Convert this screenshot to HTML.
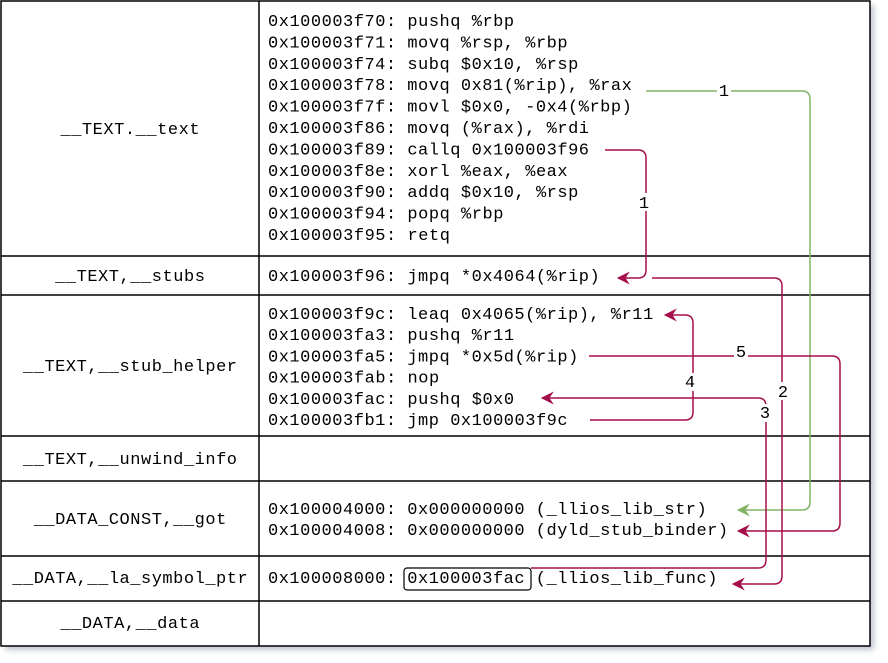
<!DOCTYPE html>
<html><head><meta charset="utf-8"><style>
body{margin:0;background:#fff}
svg{display:block}
text{font-family:"Liberation Mono","DejaVu Sans Mono",monospace;font-size:17px;fill:#000}
</style></head><body>
<svg width="888" height="663" viewBox="0 0 888 663" xmlns="http://www.w3.org/2000/svg">
<defs>
<filter id="sh" x="-5%" y="-5%" width="110%" height="110%"><feGaussianBlur stdDeviation="3"/></filter>
<marker id="ar" viewBox="0 0 12 12" refX="10" refY="6" markerWidth="13" markerHeight="13" markerUnits="userSpaceOnUse" orient="auto"><path d="M0,0 L12,6 L0,12 L4,6 Z" fill="#a50d4b"/></marker>
<marker id="ag" viewBox="0 0 12 12" refX="10" refY="6" markerWidth="13" markerHeight="13" markerUnits="userSpaceOnUse" orient="auto"><path d="M0,0 L12,6 L0,12 L4,6 Z" fill="#82b366"/></marker>
</defs>
<rect x="5" y="5" width="869" height="645" fill="#9aa0b8" opacity="0.6" filter="url(#sh)"/>
<rect x="1" y="1" width="869" height="645" fill="#fff" stroke="#000" stroke-width="1.5"/>
<g stroke="#000" stroke-width="1.5">
<line x1="259" y1="1" x2="259" y2="646"/>
<line x1="1" y1="256" x2="870" y2="256"/>
<line x1="1" y1="295" x2="870" y2="295"/>
<line x1="1" y1="436" x2="870" y2="436"/>
<line x1="1" y1="481" x2="870" y2="481"/>
<line x1="1" y1="556" x2="870" y2="556"/>
<line x1="1" y1="601" x2="870" y2="601"/>
</g>
<g text-anchor="middle">
<text x="130" y="134" textLength="139.1" lengthAdjust="spacing">__TEXT.__text</text>
<text x="130" y="281" textLength="149.8" lengthAdjust="spacing">__TEXT,__stubs</text>
<text x="130" y="371" textLength="214" lengthAdjust="spacing">__TEXT,__stub_helper</text>
<text x="130" y="464" textLength="214" lengthAdjust="spacing">__TEXT,__unwind_info</text>
<text x="130" y="524" textLength="192.6" lengthAdjust="spacing">__DATA_CONST,__got</text>
<text x="130" y="583" textLength="235.4" lengthAdjust="spacing">__DATA,__la_symbol_ptr</text>
<text x="130" y="628" textLength="139.1" lengthAdjust="spacing">__DATA,__data</text>
</g>
<g xml:space="preserve">
<text x="268" y="26" textLength="246.1" lengthAdjust="spacing">0x100003f70: pushq %rbp</text>
<text x="268" y="47.4" textLength="299.6" lengthAdjust="spacing">0x100003f71: movq %rsp, %rbp</text>
<text x="268" y="68.8" textLength="310.3" lengthAdjust="spacing">0x100003f74: subq $0x10, %rsp</text>
<text x="268" y="90.2" textLength="363.8" lengthAdjust="spacing">0x100003f78: movq 0x81(%rip), %rax</text>
<text x="268" y="111.6" textLength="363.8" lengthAdjust="spacing">0x100003f7f: movl $0x0, -0x4(%rbp)</text>
<text x="268" y="133" textLength="321" lengthAdjust="spacing">0x100003f86: movq (%rax), %rdi</text>
<text x="268" y="154.4" textLength="321" lengthAdjust="spacing">0x100003f89: callq 0x100003f96</text>
<text x="268" y="175.8" textLength="299.6" lengthAdjust="spacing">0x100003f8e: xorl %eax, %eax</text>
<text x="268" y="197.2" textLength="310.3" lengthAdjust="spacing">0x100003f90: addq $0x10, %rsp</text>
<text x="268" y="218.6" textLength="235.4" lengthAdjust="spacing">0x100003f94: popq %rbp</text>
<text x="268" y="240" textLength="181.9" lengthAdjust="spacing">0x100003f95: retq</text>
<text x="268" y="281" textLength="331.7" lengthAdjust="spacing">0x100003f96: jmpq *0x4064(%rip)</text>
<text x="268" y="319" textLength="385.2" lengthAdjust="spacing">0x100003f9c: leaq 0x4065(%rip), %r11</text>
<text x="268" y="340.2" textLength="246.1" lengthAdjust="spacing">0x100003fa3: pushq %r11</text>
<text x="268" y="361.4" textLength="310.3" lengthAdjust="spacing">0x100003fa5: jmpq *0x5d(%rip)</text>
<text x="268" y="382.6" textLength="171.2" lengthAdjust="spacing">0x100003fab: nop</text>
<text x="268" y="403.8" textLength="246.1" lengthAdjust="spacing">0x100003fac: pushq $0x0</text>
<text x="268" y="425" textLength="299.6" lengthAdjust="spacing">0x100003fb1: jmp 0x100003f9c</text>
<text x="268" y="514" textLength="438.7" lengthAdjust="spacing">0x100004000: 0x000000000 (_llios_lib_str)</text>
<text x="268" y="535" textLength="460.1" lengthAdjust="spacing">0x100004008: 0x000000000 (dyld_stub_binder)</text>
<text x="268" y="583" textLength="449.4" lengthAdjust="spacing">0x100008000: 0x100003fac (_llios_lib_func)</text>
</g>
<rect x="404" y="568" width="127" height="22" rx="3" fill="none" stroke="#000" stroke-width="1.2"/>
<g fill="none" stroke-width="1.5">
<path d="M646,91 H802 Q810,91 810,99 V502 Q810,510 802,510 H739" stroke="#82b366" marker-end="url(#ag)"/>
<path d="M605,150 H638 Q646,150 646,158 V270 Q646,278 638,278 H619" stroke="#a50d4b" marker-end="url(#ar)"/>
<path d="M652,278 H774 Q782,278 782,286 V576 Q782,584 774,584 H734" stroke="#a50d4b" marker-end="url(#ar)"/>
<path d="M531,568 H758 Q766,568 766,560 V406 Q766,398 758,398 H543" stroke="#a50d4b" marker-end="url(#ar)"/>
<path d="M590,420 H685 Q693,420 693,412 V323 Q693,315 685,315 H666" stroke="#a50d4b" marker-end="url(#ar)"/>
<path d="M589,356 H832 Q840,356 840,364 V523 Q840,531 832,531 H739" stroke="#a50d4b" marker-end="url(#ar)"/>
</g>
<g text-anchor="middle">
<rect x="717" y="82" width="14" height="16" fill="#fff"/><text x="724" y="96">1</text>
<rect x="637" y="193" width="14" height="18" fill="#fff"/><text x="644" y="208">1</text>
<rect x="776" y="382" width="14" height="18" fill="#fff"/><text x="783" y="397">2</text>
<rect x="758" y="404" width="14" height="18" fill="#fff"/><text x="765" y="418">3</text>
<rect x="683" y="373" width="14" height="18" fill="#fff"/><text x="690" y="387">4</text>
<rect x="734" y="343" width="14" height="18" fill="#fff"/><text x="741" y="357">5</text>
</g>
</svg>
</body></html>
